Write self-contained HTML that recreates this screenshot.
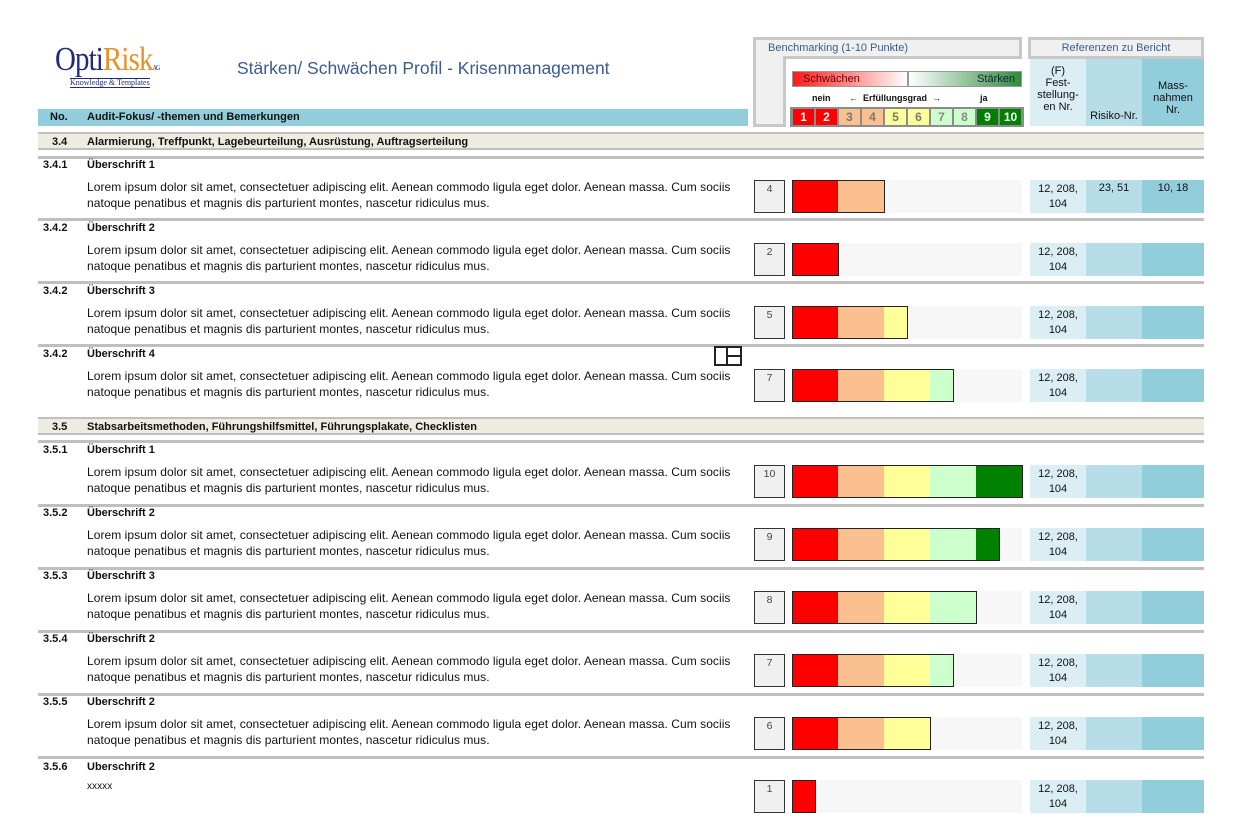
<!DOCTYPE html>
<html><head><meta charset="utf-8"><style>
*{margin:0;padding:0;box-sizing:border-box}
body{width:1235px;height:827px;background:#fff;position:relative;overflow:hidden;font-family:"Liberation Sans",Arial,sans-serif;color:#111;font-size:11px}
.a{position:absolute}
.b{font-weight:bold}
.line{position:absolute;left:38px;width:1166px;height:3px;background:#bfbfbf}
.sec{position:absolute;left:38px;width:1166px;height:18px;background:#eeece1;border-top:2px solid #bfbfbf;border-bottom:2px solid #bfbfbf;font-weight:bold;font-size:11px;line-height:16px}
.row{position:absolute;left:0;width:1235px;height:33px}
.hn{position:absolute;left:43px;top:-21px;font-weight:bold;width:40px}
.ht{position:absolute;left:87px;top:-21px;font-weight:bold}
.lo{position:absolute;left:87px;top:-1px;line-height:16px;font-size:12px;width:662px;letter-spacing:0.05px}
.sb{position:absolute;left:754px;top:0;width:31px;height:33px;border:1.5px solid #333;background:#f0f0f0;text-align:center;font-size:10.5px;color:#445;padding-top:2px}
.bg{position:absolute;left:792px;top:0;width:230px;height:33px;background:#f7f7f7}
.bar{position:absolute;left:792px;top:0;height:33px;border:1.5px solid #222;display:flex;overflow:hidden}
.bar i{display:block;height:100%;flex:none}
.c1{background:#ff0000}.c2{background:#fac090}.c3{background:#ffff99}.c4{background:#ccffcc}.c5{background:#008000}
.f{position:absolute;left:1030px;top:0;width:56px;height:33px;background:#dbeef3;text-align:center;line-height:15px;padding-top:2px;font-size:11px}
.r{position:absolute;left:1086px;top:0;width:56px;height:33px;background:#b7dde8;text-align:center;padding-top:2px}
.m{position:absolute;left:1142px;top:0;width:62px;height:33px;background:#92cddc;text-align:center;padding-top:2px}
.num{position:absolute;top:109px;width:21px;height:16px;text-align:center;font-weight:bold;font-size:12px;line-height:16px}
</style></head><body>

<div class="a" style="left:55px;top:40px;font-family:'Liberation Serif',serif;font-size:34px;line-height:40px;letter-spacing:-1px;transform:scaleX(0.85);transform-origin:left"><span style="color:#1f2a7a">Opti</span><span style="color:#e8902a">Risk</span><span style="font-size:7px;color:#1f2a7a">AG</span></div>
<div class="a" style="left:70px;top:78px;font-family:'Liberation Serif',serif;font-size:8px;color:#1f2a7a;border-top:1px solid #1f2a7a;border-bottom:1px solid #1f2a7a;line-height:8px">Knowledge &amp; Templates</div>
<div class="a" style="left:237px;top:58px;font-size:17.5px;color:#3b5c8c">Stärken/ Schwächen Profil - Krisenmanagement</div>

<div class="a b" style="left:38px;top:109px;width:710px;height:17px;background:#92cddc;line-height:17px"><span class="a" style="left:12px">No.</span><span class="a" style="left:49px">Audit-Fokus/ -themen und Bemerkungen</span></div>

<div class="a" style="left:753px;top:37px;width:269px;height:22px;background:#f0f0f0;border:3px solid #c8c8c8;color:#3b5c8c;font-size:11px;line-height:16px;padding-left:12px">Benchmarking (1-10 Punkte)</div>
<div class="a" style="left:753px;top:56px;width:33px;height:71px;background:#f0f0f0;border:3px solid #c8c8c8;border-top:none"></div>
<div class="a" style="left:792px;top:71px;width:116px;height:16px;background:linear-gradient(90deg,#ff1a1a,#ffffff);border:1px solid #999;line-height:14px;padding-left:10px;color:#600">Schwächen</div>
<div class="a" style="left:908px;top:71px;width:114px;height:16px;background:linear-gradient(90deg,#ffffff,#2e8b3e);border:1px solid #999;line-height:14px;text-align:right;padding-right:6px;color:#123">Stärken</div>
<div class="a b" style="left:812px;top:93px;font-size:9px">nein</div>
<div class="a b" style="left:849px;top:93px;font-size:9px">←&nbsp; Erfüllungsgrad &nbsp;→</div>
<div class="a b" style="left:980px;top:93px;font-size:9px">ja</div>
<div class="a" style="left:790px;top:107px;width:234px;height:20px;background:#8c8c8c"></div>
<div class="num" style="left:793px;background:#ff0000;color:#fff">1</div>
<div class="num" style="left:816px;background:#ff0000;color:#fff">2</div>
<div class="num" style="left:839px;background:#fac090;color:#777">3</div>
<div class="num" style="left:862px;background:#fac090;color:#777">4</div>
<div class="num" style="left:885px;background:#ffff99;color:#777">5</div>
<div class="num" style="left:908px;background:#ffff99;color:#777">6</div>
<div class="num" style="left:931px;background:#ccffcc;color:#888">7</div>
<div class="num" style="left:954px;background:#ccffcc;color:#888">8</div>
<div class="num" style="left:977px;background:#008000;color:#fff">9</div>
<div class="num" style="left:1000px;background:#008000;color:#fff">10</div>

<div class="a" style="left:1028px;top:37px;width:176px;height:22px;background:#f0f0f0;border:3px solid #c8c8c8;color:#3b5c8c;text-align:center;line-height:16px">Referenzen zu Bericht</div>
<div class="a" style="left:1030px;top:59px;width:56px;height:67px;background:#dbeef3;text-align:center;line-height:12px;padding-top:6px">(F)<br>Fest-<br>stellung-<br>en Nr.</div>
<div class="a" style="left:1086px;top:59px;width:56px;height:67px;background:#b7dde8;text-align:center;padding-top:51px;line-height:12px">Risiko-Nr.</div>
<div class="a" style="left:1142px;top:59px;width:62px;height:67px;background:#92cddc;text-align:center;line-height:12px;padding-top:21px">Mass-<br>nahmen<br>Nr.</div>

<div class="sec" style="top:132px"><span class="a" style="left:14px">3.4</span><span class="a" style="left:49px">Alarmierung, Treffpunkt, Lagebeurteilung, Ausrüstung, Auftragserteilung</span></div>
<div class="line" style="top:156px"></div>
<div class="sec" style="top:417px"><span class="a" style="left:14px">3.5</span><span class="a" style="left:49px">Stabsarbeitsmethoden, Führungshilfsmittel, Führungsplakate, Checklisten</span></div>
<div class="line" style="top:440px"></div>

<div class="line" style="top:218px"></div>
<div class="line" style="top:281px"></div>
<div class="line" style="top:344px"></div>
<div class="line" style="top:504px"></div>
<div class="line" style="top:567px"></div>
<div class="line" style="top:630px"></div>
<div class="line" style="top:693px"></div>
<div class="line" style="top:756px"></div>

<div class="a" style="left:714px;top:346px;width:28px;height:20px;border:2px solid #222"></div>
<div class="a" style="left:726px;top:346px;width:2px;height:20px;background:#222"></div>
<div class="a" style="left:726px;top:355px;width:16px;height:2px;background:#222"></div>

<div class="row" style="top:180px"><div class="hn">3.4.1</div><div class="ht">Überschrift 1</div><div class="lo">Lorem ipsum dolor sit amet, consectetuer adipiscing elit. Aenean commodo ligula eget dolor. Aenean massa. Cum sociis natoque penatibus et magnis dis parturient montes, nascetur ridiculus mus.</div><div class="sb">4</div><div class="bg"></div><div class="bar" style="width:93px"><i class="c1" style="width:45px"></i><i class="c2" style="width:46px"></i></div><div class="f">12, 208,<br>104</div><div class="r">23, 51</div><div class="m">10, 18</div></div>

<div class="row" style="top:243px"><div class="hn">3.4.2</div><div class="ht">Überschrift 2</div><div class="lo">Lorem ipsum dolor sit amet, consectetuer adipiscing elit. Aenean commodo ligula eget dolor. Aenean massa. Cum sociis natoque penatibus et magnis dis parturient montes, nascetur ridiculus mus.</div><div class="sb">2</div><div class="bg"></div><div class="bar" style="width:47px"><i class="c1" style="width:46px"></i></div><div class="f">12, 208,<br>104</div><div class="r"></div><div class="m"></div></div>

<div class="row" style="top:306px"><div class="hn">3.4.2</div><div class="ht">Überschrift 3</div><div class="lo">Lorem ipsum dolor sit amet, consectetuer adipiscing elit. Aenean commodo ligula eget dolor. Aenean massa. Cum sociis natoque penatibus et magnis dis parturient montes, nascetur ridiculus mus.</div><div class="sb">5</div><div class="bg"></div><div class="bar" style="width:116px"><i class="c1" style="width:45px"></i><i class="c2" style="width:46px"></i><i class="c3" style="width:23px"></i></div><div class="f">12, 208,<br>104</div><div class="r"></div><div class="m"></div></div>

<div class="row" style="top:369px"><div class="hn">3.4.2</div><div class="ht">Überschrift 4</div><div class="lo">Lorem ipsum dolor sit amet, consectetuer adipiscing elit. Aenean commodo ligula eget dolor. Aenean massa. Cum sociis natoque penatibus et magnis dis parturient montes, nascetur ridiculus mus.</div><div class="sb">7</div><div class="bg"></div><div class="bar" style="width:162px"><i class="c1" style="width:45px"></i><i class="c2" style="width:46px"></i><i class="c3" style="width:46px"></i><i class="c4" style="width:23px"></i></div><div class="f">12, 208,<br>104</div><div class="r"></div><div class="m"></div></div>

<div class="row" style="top:465px"><div class="hn">3.5.1</div><div class="ht">Überschrift 1</div><div class="lo">Lorem ipsum dolor sit amet, consectetuer adipiscing elit. Aenean commodo ligula eget dolor. Aenean massa. Cum sociis natoque penatibus et magnis dis parturient montes, nascetur ridiculus mus.</div><div class="sb">10</div><div class="bg"></div><div class="bar" style="width:231px"><i class="c1" style="width:45px"></i><i class="c2" style="width:46px"></i><i class="c3" style="width:46px"></i><i class="c4" style="width:46px"></i><i class="c5" style="width:46px"></i></div><div class="f">12, 208,<br>104</div><div class="r"></div><div class="m"></div></div>

<div class="row" style="top:528px"><div class="hn">3.5.2</div><div class="ht">Überschrift 2</div><div class="lo">Lorem ipsum dolor sit amet, consectetuer adipiscing elit. Aenean commodo ligula eget dolor. Aenean massa. Cum sociis natoque penatibus et magnis dis parturient montes, nascetur ridiculus mus.</div><div class="sb">9</div><div class="bg"></div><div class="bar" style="width:208px"><i class="c1" style="width:45px"></i><i class="c2" style="width:46px"></i><i class="c3" style="width:46px"></i><i class="c4" style="width:46px"></i><i class="c5" style="width:23px"></i></div><div class="f">12, 208,<br>104</div><div class="r"></div><div class="m"></div></div>

<div class="row" style="top:591px"><div class="hn">3.5.3</div><div class="ht">Überschrift 3</div><div class="lo">Lorem ipsum dolor sit amet, consectetuer adipiscing elit. Aenean commodo ligula eget dolor. Aenean massa. Cum sociis natoque penatibus et magnis dis parturient montes, nascetur ridiculus mus.</div><div class="sb">8</div><div class="bg"></div><div class="bar" style="width:185px"><i class="c1" style="width:45px"></i><i class="c2" style="width:46px"></i><i class="c3" style="width:46px"></i><i class="c4" style="width:46px"></i></div><div class="f">12, 208,<br>104</div><div class="r"></div><div class="m"></div></div>

<div class="row" style="top:654px"><div class="hn">3.5.4</div><div class="ht">Überschrift 2</div><div class="lo">Lorem ipsum dolor sit amet, consectetuer adipiscing elit. Aenean commodo ligula eget dolor. Aenean massa. Cum sociis natoque penatibus et magnis dis parturient montes, nascetur ridiculus mus.</div><div class="sb">7</div><div class="bg"></div><div class="bar" style="width:162px"><i class="c1" style="width:45px"></i><i class="c2" style="width:46px"></i><i class="c3" style="width:46px"></i><i class="c4" style="width:23px"></i></div><div class="f">12, 208,<br>104</div><div class="r"></div><div class="m"></div></div>

<div class="row" style="top:717px"><div class="hn">3.5.5</div><div class="ht">Uberschrift 2</div><div class="lo">Lorem ipsum dolor sit amet, consectetuer adipiscing elit. Aenean commodo ligula eget dolor. Aenean massa. Cum sociis natoque penatibus et magnis dis parturient montes, nascetur ridiculus mus.</div><div class="sb">6</div><div class="bg"></div><div class="bar" style="width:139px"><i class="c1" style="width:45px"></i><i class="c2" style="width:46px"></i><i class="c3" style="width:46px"></i></div><div class="f">12, 208,<br>104</div><div class="r"></div><div class="m"></div></div>

<div class="row" style="top:780px"><div class="hn" style="top:-19px">3.5.6</div><div class="ht" style="top:-19px">Uberschrift 2</div><div class="lo" style="top:-1px;font-size:10px">xxxxx</div><div class="sb">1</div><div class="bg"></div><div class="bar" style="width:24px"><i class="c1" style="width:23px"></i></div><div class="f">12, 208,<br>104</div><div class="r"></div><div class="m"></div></div>

</body></html>
